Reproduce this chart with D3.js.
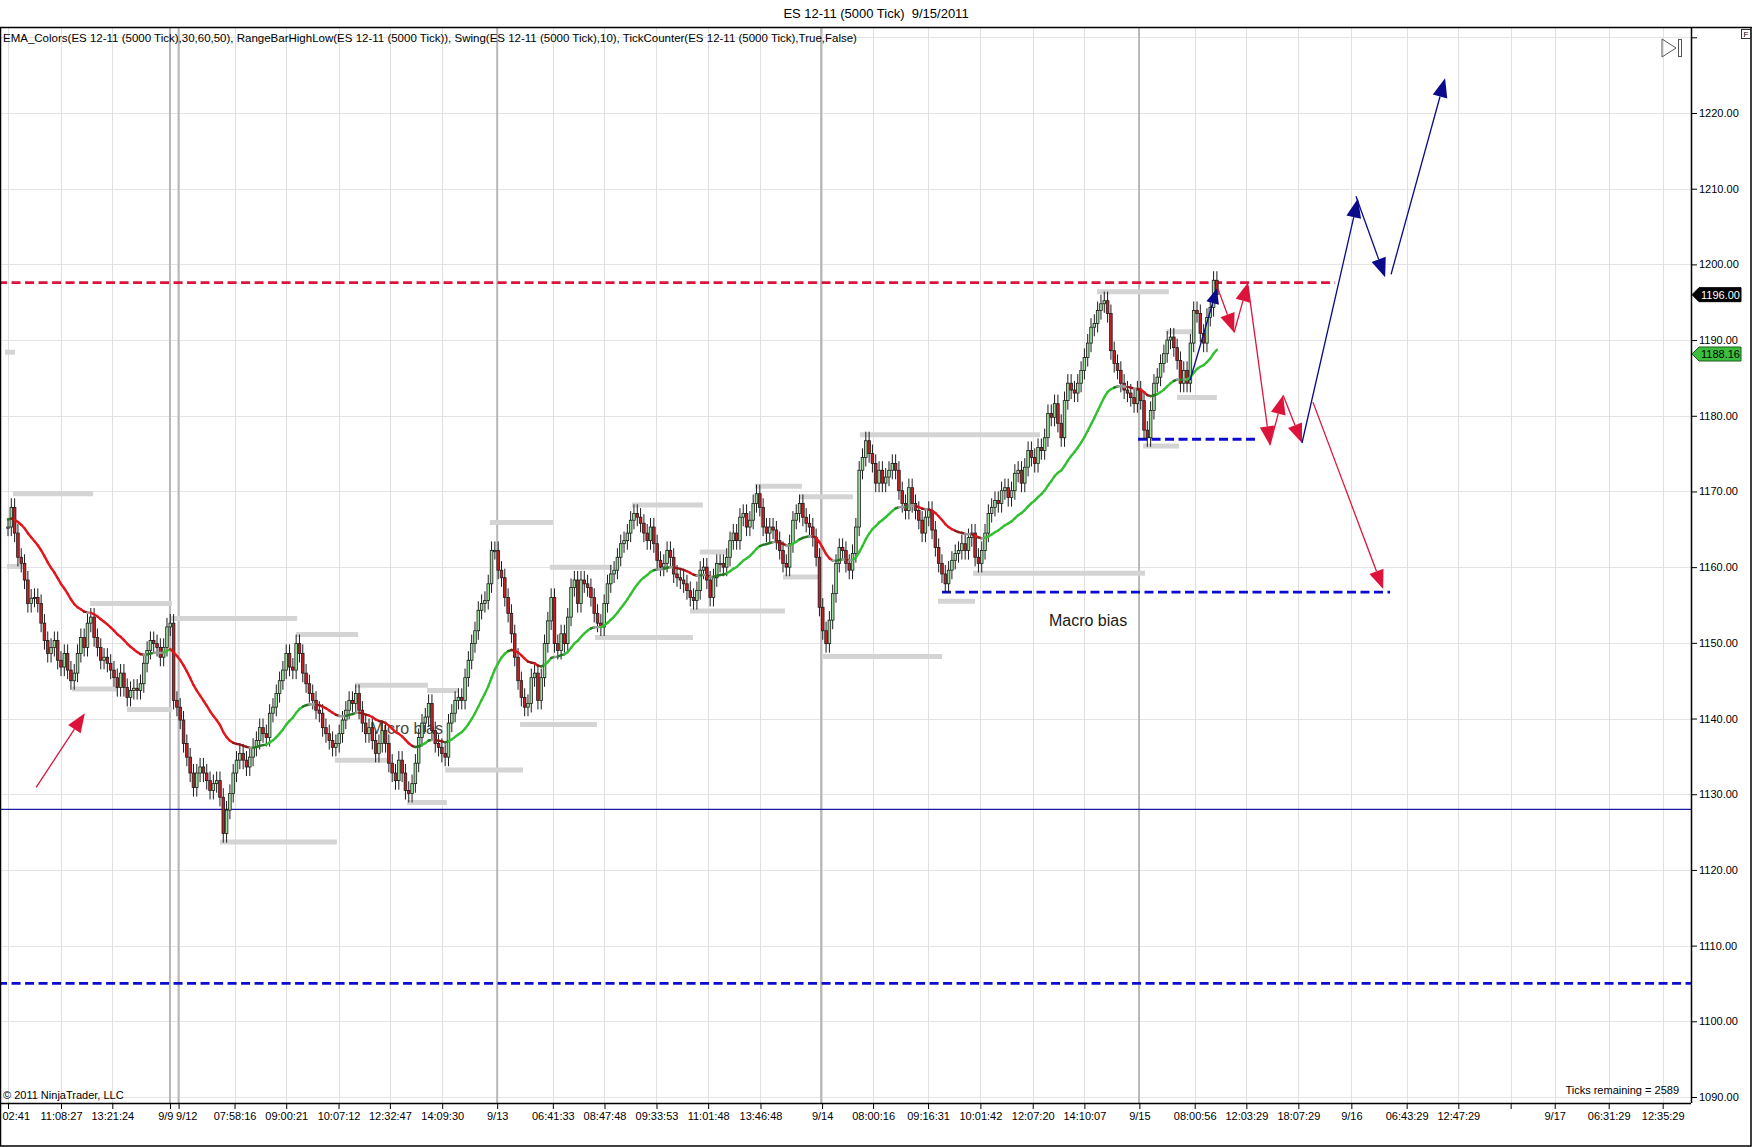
<!DOCTYPE html>
<html lang="en">
<head>
<meta charset="utf-8" />
<title>ES 12-11 (5000 Tick) 9/15/2011</title>
<script src="https://cdn.jsdelivr.net/npm/d3@7"></script>
<style>
  body { margin: 0; background: #fff; }
  text { font-family: Arial, "Liberation Sans", sans-serif; }
</style>
</head>
<body>
<div id="chart"></div>
<script>
// close of every 5000-tick bar (open = previous close)
const closes = [
  // 9/8 - 9/9
  1165.3, 1167.9, 1164.5, 1161.3, 1160.5, 1158.3, 1155.2, 1155.9, 1156.0, 1155.2,
  1152.6, 1150.3, 1148.6, 1149.4, 1150.3, 1147.7, 1146.8, 1148.6, 1146.4, 1145.0,
  1146.0, 1148.6, 1150.7, 1149.4, 1152.6, 1153.4, 1150.7, 1149.4, 1147.7, 1148.1,
  1147.3, 1146.4, 1145.4, 1144.1, 1146.0, 1144.1, 1142.8, 1143.7, 1144.0, 1143.7,
  1144.6, 1147.3, 1149.0, 1150.3, 1149.9, 1149.4, 1148.1, 1149.4, 1152.1, 1152.6,
  // 9/12
  1142.4, 1141.5, 1139.8, 1136.7, 1134.9, 1132.8, 1130.9, 1132.8, 1133.6, 1132.8,
  1131.8, 1130.5, 1131.4, 1131.8, 1129.6, 1124.8, 1127.9, 1130.1, 1132.8, 1134.5,
  1135.4, 1134.5, 1133.6, 1134.9, 1136.2, 1137.1, 1138.8, 1138.0, 1137.5, 1140.7,
  1141.5, 1143.3, 1145.0, 1146.4, 1148.6, 1146.8, 1146.4, 1149.9, 1148.6, 1146.0,
  1144.6, 1143.3, 1142.4, 1141.1, 1140.7, 1138.8, 1138.0, 1137.1, 1136.2, 1136.7,
  1138.0, 1139.8, 1141.1, 1142.4, 1142.0, 1143.3,
  1141.1, 1139.4, 1138.0, 1138.8, 1137.1, 1135.4, 1136.7, 1138.4, 1136.7, 1134.1,
  1132.8, 1131.8, 1134.5, 1132.8, 1130.5, 1130.1, 1131.4, 1134.1, 1137.5, 1139.4,
  1140.2, 1142.0, 1138.4, 1136.7, 1136.2, 1135.4, 1134.9, 1139.4, 1140.7, 1142.4,
  1142.8, 1142.4, 1145.4, 1147.7, 1149.9, 1151.6, 1154.3, 1155.2, 1155.6, 1157.8,
  1162.2, 1162.2,
  // 9/13
  1159.6, 1158.6, 1156.0, 1153.9, 1151.2, 1148.1, 1145.0, 1142.8, 1141.5, 1142.0,
  1145.4, 1146.0, 1142.4, 1145.4, 1149.9, 1152.9, 1156.0, 1149.9, 1149.0, 1151.2,
  1149.9, 1153.4, 1157.3, 1158.3, 1155.2, 1158.3, 1157.8, 1157.3, 1156.0, 1153.9,
  1152.6, 1152.1, 1155.2, 1157.8, 1159.1, 1159.6, 1161.3, 1163.1, 1163.5, 1164.5,
  1166.2, 1167.1, 1166.6, 1165.8, 1164.5, 1163.5, 1165.3, 1163.1, 1160.9, 1160.0,
  1160.5, 1162.2, 1161.3, 1159.1, 1158.6, 1158.3, 1157.8, 1156.9, 1156.0, 1155.6,
  1156.9, 1159.6, 1160.0, 1158.3, 1156.0, 1158.6, 1160.5, 1160.5, 1160.0, 1161.3,
  1163.5, 1164.5, 1163.5, 1166.6, 1167.1, 1165.3, 1166.2, 1168.4, 1169.7, 1167.9,
  1165.3, 1164.5, 1165.3, 1164.9, 1163.5, 1162.2, 1160.5, 1160.0,
  1163.1, 1166.2, 1167.1, 1168.4, 1166.6, 1165.8, 1165.3, 1163.9, 1161.3,
  // 9/14
  1154.7, 1151.6, 1149.9, 1153.0, 1156.5, 1160.5, 1162.6, 1162.2, 1160.5, 1159.6,
  1161.8, 1165.3, 1172.8, 1174.5, 1176.7, 1175.0, 1173.7, 1171.1, 1172.8, 1171.1,
  1171.9, 1172.8, 1173.7, 1172.8, 1170.1, 1168.4, 1167.5, 1170.5, 1168.4, 1167.5,
  1166.2, 1164.5, 1166.6, 1167.5, 1164.9, 1162.6, 1160.5, 1159.1, 1157.8, 1159.6,
  1160.9, 1161.8, 1162.2, 1163.1, 1162.2, 1163.9, 1164.5, 1161.3, 1160.5, 1162.2,
  1164.5, 1167.1, 1167.9, 1168.8, 1168.4, 1170.1, 1170.5, 1169.2, 1170.1, 1172.4,
  1172.8, 1171.1, 1173.2, 1175.4, 1174.5, 1173.7, 1175.8, 1175.4, 1177.1, 1180.3,
  1179.8, 1181.6, 1179.0, 1177.1, 1182.0, 1184.3, 1183.4, 1183.0, 1184.3, 1186.0,
  1187.7, 1189.6, 1191.7, 1192.2, 1193.9, 1194.8, 1195.2, 1193.5, 1188.6, 1186.9,
  1186.0, 1184.3, 1183.4, 1183.0, 1182.4, 1181.6, 1183.4, 1182.0,
  // 9/15
  1178.1, 1177.1, 1180.7, 1184.3, 1185.1, 1186.9, 1188.2, 1190.0, 1190.4, 1189.0,
  1187.3, 1184.3, 1186.0, 1184.3, 1189.6, 1193.9, 1193.5, 1190.9, 1189.6, 1193.0,
  1194.3, 1197.9, 1196.0
];

// x-axis labels, placed at bar numbers (future ones beyond the last bar)
const xTickIdx = [0, 16, 31.5, 48.9, 51.5, 68.4, 84, 99.8, 115.3, 131.1, 147.7, 164.5,
  180.1, 195.8, 211.4, 227.2, 245.8, 261.2, 277.8, 293.6, 309.4, 325, 341.6, 358.3,
  373.9, 389.6, 405.6, 422.3, 437.9, 453.7, 467, 483.3, 499.6];
const xTickText = ["02:41", "11:08:27", "13:21:24", "9/9", "9/12", "07:58:16", "09:00:21",
  "10:07:12", "12:32:47", "14:09:30", "9/13", "06:41:33", "08:47:48", "09:33:53",
  "11:01:48", "13:46:48", "9/14", "08:00:16", "09:16:31", "10:01:42", "12:07:20",
  "14:10:07", "9/15", "08:00:56", "12:03:29", "18:07:29", "9/16", "06:43:29",
  "12:47:29", "", "9/17", "06:31:29", "12:35:29"];
const sessionBreaks = [48.9, 51.5, 147.7, 245.5, 341.5];

const yTicks = [1090, 1100, 1110, 1120, 1130, 1140, 1150, 1160, 1170, 1180, 1190, 1200, 1210, 1220, 1230];

// RangeBarHighLow levels: start bar, end bar, price
const rangeStart = [1.5, -0.3, 24.8, 48.9, 87, 19.3, 35.9, 98.7, 64, 104.8, 126.5, 120.5, 132,
  145.5, 154.6, 163.6, 177.2, 188.4, 208.9, 205.9, 225.5, 239.1, 234, 257.2, 246.1, 280.8,
  291.4, 328.8, 342.7, 349.9, 353, -0.9];
const rangeEnd = [25.7, 4.5, 49.5, 87.3, 105.7, 32.9, 49.5, 114.7, 99.3, 126.8, 135.9, 132.5,
  155.5, 164.6, 177.8, 182.4, 206.8, 209.8, 217.1, 234.6, 239.7, 255.1, 245.2, 311.6, 282,
  292, 343.3, 350.5, 353.6, 357.8, 365, 2.1];
const rangePrice = [1169.7, 1160.1, 1155.2, 1153.2, 1151.1, 1143.9, 1141.2, 1134.5, 1123.7,
  1144.4, 1143.7, 1128.9, 1133.2, 1165.9, 1139.2, 1160, 1150.7, 1168.2, 1162, 1154.2, 1170.7,
  1169.3, 1158.7, 1177.5, 1148.2, 1155.5, 1159.2, 1196.4, 1176, 1191.1, 1182.4, 1188.4];

// drawn horizontal levels
const levelPrice = [1197.6, 1176.9, 1156.7, 1105.0, 1128.0];
const levelFrom = [-3, 341.2, 282.0, -3, -3];
const levelTo = [400.7, 376.5, 417.3, 509, 509];

// drawn arrows [bar, price]
const arrowFrom = [[8.5, 1130.9], [356.9, 1184.7], [365.3, 1196.8], [370.2, 1191.0], [374.4, 1197.2],
  [381.0, 1176.1], [385.0, 1182.7], [390.7, 1176.4], [407.0, 1209.0], [417.6, 1198.7], [394.0, 1181.8]];
const arrowTo = [[23.2, 1140.7], [365.0, 1196.8], [370.2, 1191.0], [374.4, 1197.6], [381.0, 1176.1],
  [385.0, 1182.7], [390.7, 1176.4], [407.6, 1208.7], [415.8, 1198.3], [433.9, 1224.6], [415.2, 1157.1]];
const arrowKind = ["red", "blue", "red", "red", "red", "red", "red", "blue", "blue", "blue", "red"];

const noteText = ["Micro bias", "Macro bias"];
const notePos = [[109.3, 1138.0], [314.3, 1152.2]];

const tagValues = [1196.00, 1188.16];

// ---------------------------------------------------------------
const W = 1752, H = 1147;
const plotTop = 27, plotBottom = 1103, plotRight = 1691;
const firstBarX = 8, barStep = 3.312;

const svg = d3.select("#chart").append("svg")
  .attr("width", W).attr("height", H);

const x = d3.scaleLinear()
  .domain([-firstBarX / barStep, (plotRight - firstBarX) / barStep])
  .range([0, plotRight]);
const y = d3.scaleLinear().domain([1090, 1220]).range([1097, 113]);

svg.append("defs").append("clipPath").attr("id", "plot")
  .append("rect").attr("x", 0).attr("y", plotTop).attr("width", plotRight).attr("height", plotBottom - plotTop);

const plot = svg.append("g").attr("clip-path", "url(#plot)");

// grid
plot.selectAll(".hgrid").data(yTicks).join("line")
  .attr("x1", 0).attr("x2", plotRight)
  .attr("y1", d => Math.round(y(d)) + 0.5).attr("y2", d => Math.round(y(d)) + 0.5)
  .attr("stroke", "#e4e4e4");
plot.selectAll(".vgrid").data(xTickIdx).join("line")
  .attr("x1", d => Math.round(x(d)) + 0.5).attr("x2", d => Math.round(x(d)) + 0.5)
  .attr("y1", plotTop).attr("y2", plotBottom)
  .attr("stroke", "#e0e0e0");
plot.selectAll(".sess").data(sessionBreaks).join("line")
  .attr("x1", d => x(d)).attr("x2", d => x(d))
  .attr("y1", plotTop).attr("y2", plotBottom)
  .attr("stroke", "#b8b8b8").attr("stroke-width", 2);

// levels
const levelColor = ["#dc143c", "#0c0cd0", "#0c0cd0", "#0c0cd0", "#1c1ca6"];
plot.selectAll(".level").data(levelPrice).join("line")
  .attr("x1", (d, i) => x(levelFrom[i])).attr("x2", (d, i) => x(levelTo[i]))
  .attr("y1", d => y(d)).attr("y2", d => y(d))
  .attr("stroke", (d, i) => levelColor[i])
  .attr("stroke-width", (d, i) => i === 4 ? 1.2 : 2.8)
  .attr("stroke-dasharray", (d, i) => i === 4 ? null : "9,4.5");

// range bar high/low
plot.selectAll(".range").data(rangePrice).join("line")
  .attr("x1", (d, i) => x(rangeStart[i])).attr("x2", (d, i) => x(rangeEnd[i]))
  .attr("y1", d => y(d)).attr("y2", d => y(d))
  .attr("stroke", "#d4d4d4").attr("stroke-width", 5);

// notes
plot.selectAll(".note").data(noteText).join("text")
  .attr("x", (d, i) => x(notePos[i][0])).attr("y", (d, i) => y(notePos[i][1]))
  .attr("font-size", 16).attr("fill", (d, i) => i === 0 ? "#444" : "#1a1a1a")
  .text(d => d);

// candles
const bars = closes.map((c, i) => ({ i, o: i ? closes[i - 1] : c, c }));
const wick = 1.2;
const cg = plot.append("g");
cg.selectAll(".wick").data(bars).join("line")
  .attr("x1", d => x(d.i)).attr("x2", d => x(d.i))
  .attr("y1", d => y(Math.max(d.o, d.c) + wick)).attr("y2", d => y(Math.min(d.o, d.c) - wick))
  .attr("stroke", "#1b1b1b").attr("stroke-width", 1);
cg.selectAll(".body").data(bars).join("rect")
  .attr("x", d => x(d.i) - 1.3).attr("width", 2.6)
  .attr("y", d => y(Math.max(d.o, d.c)))
  .attr("height", d => Math.max(1.2, Math.abs(y(d.o) - y(d.c))))
  .attr("fill", d => d.c >= d.o ? "#9fe09f" : "#c81e24")
  .attr("stroke", "#1b1b1b").attr("stroke-width", 0.8);

// EMA(30) coloured by slope
const alpha = 2 / 31;
const ema = [];
closes.forEach((c, i) => ema.push(i ? ema[i - 1] + alpha * (c - ema[i - 1]) : c + 1));
function emaColor(s) {
  if (Math.abs(s) < 0.06) return "#9a9a9a";
  if (s < 0) return s < -0.2 ? "#e3141c" : "#8e1b1b";
  return s > 0.2 ? "#32c032" : "#237a23";
}
plot.selectAll(".ema").data(ema.slice(1)).join("line")
  .attr("x1", (d, i) => x(i)).attr("y1", (d, i) => y(ema[i]))
  .attr("x2", (d, i) => x(i + 1)).attr("y2", d => y(d))
  .attr("stroke", (d, i) => emaColor(d - ema[i]))
  .attr("stroke-width", 2.4).attr("stroke-linecap", "round");

// arrows
const arrowColor = { red: "#dc143c", blue: "#0a0a8a" };
arrowFrom.forEach((f, k) => {
  const x1 = x(f[0]), y1 = y(f[1]), x2 = x(arrowTo[k][0]), y2 = y(arrowTo[k][1]);
  const col = arrowColor[arrowKind[k]];
  const ang = Math.atan2(y2 - y1, x2 - x1);
  const len = k === 1 ? 15 : 19, hw = k === 1 ? 6.5 : 7.5;
  const bx = x2 - len * Math.cos(ang), by = y2 - len * Math.sin(ang);
  plot.append("line").attr("x1", x1).attr("y1", y1).attr("x2", bx).attr("y2", by)
    .attr("stroke", col).attr("stroke-width", 1.3);
  plot.append("path")
    .attr("d", `M${x2},${y2}L${bx - hw * Math.sin(ang)},${by + hw * Math.cos(ang)}L${bx + hw * Math.sin(ang)},${by - hw * Math.cos(ang)}Z`)
    .attr("fill", col);
});

// axes
const yAxis = svg.append("g").attr("transform", `translate(${plotRight},0)`)
  .call(d3.axisRight(y).tickValues(yTicks).tickSize(6).tickSizeOuter(0)
    .tickFormat(d => d === 1230 ? "" : d3.format(".2f")(d)));
yAxis.select(".domain").remove();
yAxis.selectAll("line").attr("stroke", "#000");
yAxis.selectAll("text").attr("font-size", 11).attr("fill", "#000").attr("x", 8);

const xAxis = svg.append("g").attr("transform", `translate(0,${plotBottom})`)
  .call(d3.axisBottom(x).tickValues(xTickIdx).tickSize(6).tickSizeOuter(0)
    .tickFormat((d, i) => xTickText[i]));
xAxis.select(".domain").remove();
xAxis.selectAll("line").attr("stroke", "#000");
xAxis.selectAll("text").attr("font-size", 11).attr("fill", "#000").attr("y", 9)
  .each(function (d, i) {
    const w = this.getComputedTextLength();
    const t = d3.select(this);
    if (x(d) - w / 2 < 2) t.attr("text-anchor", "start").attr("x", 2 - x(d));
    // the two close session labels 9/9 and 9/12 sit side by side
    if (xTickText[i] === "9/9") t.attr("text-anchor", "end").attr("x", 3);
    if (xTickText[i] === "9/12") t.attr("text-anchor", "start").attr("x", -3);
  });

// frame
svg.append("line").attr("x1", 0).attr("x2", W).attr("y1", plotTop + 0.5).attr("y2", plotTop + 0.5).attr("stroke", "#000");
svg.append("line").attr("x1", 0).attr("x2", plotRight).attr("y1", plotBottom + 0.5).attr("y2", plotBottom + 0.5).attr("stroke", "#000").attr("stroke-width", 1.5);
svg.append("line").attr("x1", plotRight + 0.5).attr("x2", plotRight + 0.5).attr("y1", plotTop).attr("y2", plotBottom).attr("stroke", "#000").attr("stroke-width", 1.5);
svg.append("rect").attr("x", 0.5).attr("y", plotTop + 0.5).attr("width", W - 1.5).attr("height", H - plotTop - 1.5)
  .attr("fill", "none").attr("stroke", "#000").attr("stroke-width", 1.5);

// price tags on the axis
const tagFill = ["#000", "#3cbf3c"], tagText = ["#fff", "#000"];
tagValues.forEach((v, k) => {
  const ty = y(v);
  svg.append("path")
    .attr("d", `M${plotRight + 1},${ty}L${plotRight + 8},${ty - 7}L${plotRight + 50},${ty - 7}L${plotRight + 50},${ty + 7}L${plotRight + 8},${ty + 7}Z`)
    .attr("fill", tagFill[k]).attr("stroke", k ? "#1d5e1d" : "#000");
  svg.append("text").attr("x", plotRight + 10).attr("y", ty + 4)
    .attr("font-size", 11).attr("fill", tagText[k]).text(d3.format(".2f")(v));
});

// texts
svg.append("text").attr("x", 876).attr("y", 18).attr("text-anchor", "middle")
  .attr("font-size", 13).text("ES 12-11 (5000 Tick)  9/15/2011").attr("xml:space", "preserve");
svg.append("text").attr("x", 3).attr("y", 42).attr("font-size", 11.5)
  .text("EMA_Colors(ES 12-11 (5000 Tick),30,60,50), RangeBarHighLow(ES 12-11 (5000 Tick)), Swing(ES 12-11 (5000 Tick),10), TickCounter(ES 12-11 (5000 Tick),True,False)");
svg.append("text").attr("x", 3).attr("y", 1099).attr("font-size", 11).text("© 2011 NinjaTrader, LLC");
svg.append("text").attr("x", 1679).attr("y", 1094).attr("font-size", 11).attr("text-anchor", "end")
  .text("Ticks remaining = 2589");

// F box and scroll-to-end icon
svg.append("rect").attr("x", 1741.5).attr("y", 29.5).attr("width", 9).attr("height", 9)
  .attr("fill", "#fff").attr("stroke", "#333");
svg.append("text").attr("x", 1746).attr("y", 37).attr("font-size", 8).attr("text-anchor", "middle").text("F");
svg.append("path").attr("d", "M1662,39L1676,48L1662,57Z").attr("fill", "none").attr("stroke", "#555");
svg.append("rect").attr("x", 1678.5).attr("y", 39.5).attr("width", 3).attr("height", 17)
  .attr("fill", "none").attr("stroke", "#555");
</script>
</body>
</html>
